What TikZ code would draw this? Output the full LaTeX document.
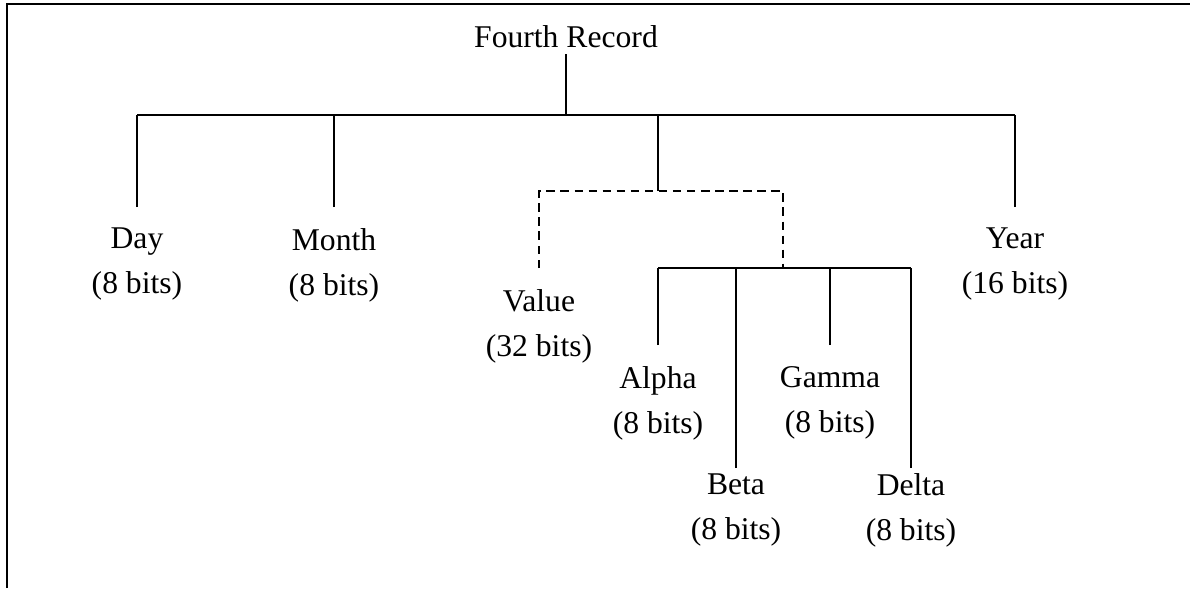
\documentclass[tikz,border=0pt]{standalone}
\usepackage{fontspec}
\setmainfont{Liberation Serif}

\begin{document}
\begin{tikzpicture}[
		x=0.025cm, y=-0.025cm,
		every node/.style={
			font=\fontsize{22.5}{32}\selectfont,
			align=center
		},
		field/.style={anchor=north, inner xsep=2pt, inner ysep=0.52cm},
		nearfield/.style={field, inner ysep=0.125cm},
		link/.style={line width=0.9pt},
		optional/.style={link, dash pattern=on 6pt off 4pt}
		]
		
		\useasboundingbox (0,0) rectangle (1190,588);
		\draw[line width=1.3pt] (7,588) -- (7,4) -- (1190,4);
		
		\node[inner sep=4pt] (record) at (566,37) {Fourth Record};
		\coordinate (bus) at (566,115);
		\coordinate (group) at (658,191);
		\coordinate (subbus) at (783,268);
		
		\node[field] (day) at (137,207) {Day\\(8 bits)};
		\node[field] (month) at (334,207) {Month\\(8 bits)};
		\node[field] (year) at (1015,207) {Year\\(16 bits)};
		\node[field] (value) at (539,268) {Value\\(32 bits)};
		
		\node[field] (alpha) at (658,345) {Alpha\\(8 bits)};
		\node[field] (gamma) at (830,345) {Gamma\\(8 bits)};
		\node[nearfield] (beta) at (736,468) {Beta\\(8 bits)};
		\node[nearfield] (delta) at (911,468) {Delta\\(8 bits)};
		
		% top level
		\draw[link] (record.south) -- (bus);
		\draw[link] (day.north |- bus) -- (year.north |- bus);
		\draw[link] (day.north) -- (day.north |- bus);
		\draw[link] (month.north) -- (month.north |- bus);
		\draw[link] (year.north) -- (year.north |- bus);
		\draw[link] (group) -- (group |- bus);
		
		% either value or four bytes
		\draw[optional] (value.north) -- (value.north |- group) -- (subbus |- group) -- (subbus);
		
		\draw[link] (alpha.north |- subbus) -- (delta.north |- subbus);
		\draw[link] (alpha.north) -- (alpha.north |- subbus);
		\draw[link] (beta.north) -- (beta.north |- subbus);
		\draw[link] (gamma.north) -- (gamma.north |- subbus);
		\draw[link] (delta.north) -- (delta.north |- subbus);
		
	\end{tikzpicture}
\end{document}
